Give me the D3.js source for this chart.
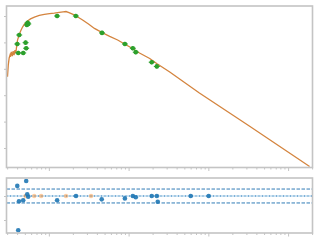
<!DOCTYPE html>
<html><head><meta charset="utf-8">
<script src="https://cdn.jsdelivr.net/npm/d3@7"></script>
<style>body{margin:0;background:#fff}svg{display:block}</style>
</head><body><svg id="c" width="320" height="240"></svg>
<script>
// observed data (main panel)
const obsX = [0.402,0.413,0.425,0.477,0.511,0.520,0.530,0.542,0.552,1.27,2.18,4.64,8.99,11.3,12.3,19.5,22.6];
const obsY = [3.94,3.60,4.28,3.60,3.99,3.78,4.66,4.74,4.70,5.0,5.0,4.36,3.94,3.78,3.63,3.25,3.09];
const obsErr = [0.08,0.08,0.08,0.08,0.08,0.08,0.08,0.08,0.08,0.08,0.08,0.08,0.08,0.08,0.08,0.08,0.08];
// model curve
const modelX = [0.303,0.310,0.318,0.326,0.330,0.339,0.348,0.357,0.366,0.376,0.385,0.395,0.405,0.424,0.443,0.468,0.496,0.540,0.589,0.659,0.759,0.878,1.02,1.17,1.35,1.51,1.64,1.79,2.01,2.25,2.65,3.14,3.73,4.60,5.79,7.29,8.91,11.2,13.7,18.4,22.5,32.8,77.2,326,1860];
const modelY = [2.70,3.14,3.41,3.52,3.45,3.64,3.48,3.67,3.52,3.71,3.60,3.86,4.09,4.28,4.43,4.58,4.70,4.81,4.89,4.96,5.02,5.06,5.09,5.11,5.14,5.16,5.17,5.13,5.06,4.98,4.85,4.70,4.53,4.38,4.23,4.09,3.94,3.77,3.60,3.39,3.20,2.88,2.08,0.83,-0.70];
// residual panel
const resX = [0.402,0.413,0.422,0.477,0.520,0.536,0.551,1.27,2.19,4.60,8.99,11.3,12.3,19.5,22.6,23.2,60.1,101];
const resY = [0.42,-1.43,-0.22,-0.18,0.625,0.07,-0.03,-0.18,0.0,-0.14,-0.10,0.0,-0.05,0.0,0.0,-0.24,0.0,0.0];
const resModelX = [0.511,0.655,0.801,1.64,3.38];
const resModelY = [0,0,0,0,0];
const sigma = 0.29;
const mainYTicks = [0,1,2,3,4,5];
const resYTicks = [-1,0];

const svg = d3.select("#c");
const L=6.5, R=312.5, T1=6, B1=167.5, T2=178, B2=233;
const x = d3.scaleLog().domain([Math.pow(10,-0.531), Math.pow(10,3.306)]).range([L,R]);
const y = d3.scaleLinear().domain([-0.739,5.379]).range([B1,T1]);
const yr = d3.scaleLinear().domain([-1.542,0.75]).range([B2,T2]);
const spine = "#c4c4c4";

function frame(top,bottom,yscale,yt){
  const g = svg.append("g");
  const xt = x.ticks();
  const ax = d3.axisBottom(x).tickValues(xt).tickFormat(()=>"").tickSizeOuter(0).tickSize(2);
  const gx = g.append("g").attr("transform",`translate(0,${bottom})`).call(ax);
  gx.selectAll(".tick line").attr("stroke",spine).attr("stroke-width",1)
    .attr("y2",d=>Math.abs(Math.log10(d)-Math.round(Math.log10(d)))<1e-6?3.5:2);
  gx.select(".domain").remove();
  const ay = d3.axisLeft(yscale).tickValues(yt).tickFormat(()=>"").tickSizeOuter(0).tickSize(2.5);
  const gy = g.append("g").attr("transform",`translate(${L},0)`).call(ay);
  gy.selectAll(".tick line").attr("stroke",spine);
  gy.select(".domain").remove();
  g.append("rect").attr("x",L).attr("y",top).attr("width",R-L).attr("height",bottom-top)
    .attr("fill","none").attr("stroke",spine).attr("stroke-width",1.6);
}

// main panel
const line = d3.line().x((d,i)=>x(modelX[i])).y((d,i)=>y(modelY[i]));
svg.append("path").datum(modelX).attr("d",line).attr("fill","none").attr("stroke","#d4843e").attr("stroke-width",1.3);
const gObs = svg.append("g");
obsX.forEach((v,i)=>{
  const cx=x(v), cy=y(obsY[i]);
  gObs.append("line").attr("x1",cx).attr("x2",cx).attr("y1",y(obsY[i]-obsErr[i])).attr("y2",y(obsY[i]+obsErr[i])).attr("stroke","#2ca02c").attr("stroke-width",1);
  gObs.append("line").attr("x1",cx-3).attr("x2",cx+3).attr("y1",cy).attr("y2",cy).attr("stroke","#2ca02c").attr("stroke-width",1);
  gObs.append("circle").attr("cx",cx).attr("cy",cy).attr("r",2.3).attr("fill","#2ca02c");
});
frame(T1,B1,y,mainYTicks);

// residual panel
svg.append("line").attr("x1",L).attr("x2",R).attr("y1",yr(0)).attr("y2",yr(0)).attr("stroke","#9ec8e6").attr("stroke-width",1.2);
svg.append("line").attr("x1",L).attr("x2",R).attr("y1",yr(0)).attr("y2",yr(0)).attr("stroke","#2f7fbc").attr("stroke-width",1.2).attr("stroke-dasharray","1,2.5");
[sigma,-sigma].forEach(s=>{
  svg.append("line").attr("x1",L).attr("x2",R).attr("y1",yr(s)).attr("y2",yr(s)).attr("stroke","#2f7bb6").attr("stroke-width",1).attr("stroke-dasharray","3.5,1.5");
});
svg.append("g").selectAll("circle").data(resModelX).join("circle")
  .attr("cx",d=>x(d)).attr("cy",(d,i)=>yr(resModelY[i])).attr("r",2.2).attr("fill","#ff7f0e").attr("opacity",0.4);
svg.append("g").selectAll("circle").data(resX).join("circle")
  .attr("cx",d=>x(d)).attr("cy",(d,i)=>yr(resY[i])).attr("r",2.3).attr("fill","#1f77b4").attr("opacity",0.9);
frame(T2,B2,yr,resYTicks);
</script></body></html>
